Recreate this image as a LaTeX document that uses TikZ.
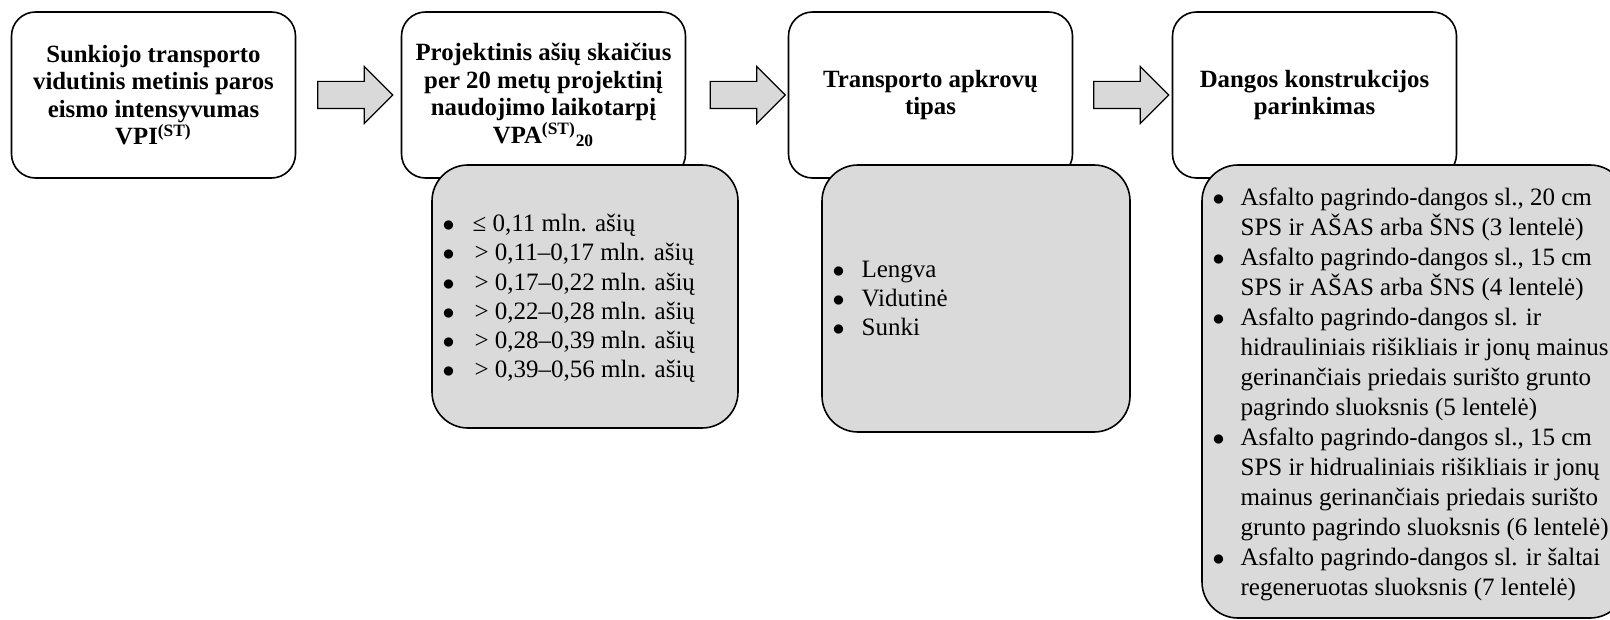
\documentclass[tikz,border=0pt]{standalone}
\usepackage{fontspec}
\setmainfont{Liberation Serif}
\usetikzlibrary{shapes.arrows,calc}
\definecolor{boxgray}{HTML}{DADADA}
\definecolor{arrowgray}{HTML}{D9D9D9}
\newcommand{\itm}[2][14pt]{\makebox[#1][l]{$\bullet$}#2}
\newcommand{\cont}[1][14pt]{\hspace*{#1}}

\begin{document}
\begin{tikzpicture}[x=0.5pt,y=-0.5pt,
  titlebox/.style={draw,line width=0.8pt,fill=white,rounded corners=12pt,
    minimum width=142pt,minimum height=83pt,align=center,
    font=\fontsize{12.4}{13.8}\selectfont\bfseries},
  listbox/.style={draw,line width=0.8pt,fill=boxgray,rounded corners=18pt},
  listtext/.style={anchor=west,align=left,inner sep=0pt,
    font=\fontsize{12.5}{15}\selectfont},
  flow/.style={draw,line width=0.6pt,fill=arrowgray,single arrow,
    single arrow head extend=7.5pt,minimum height=37.5pt,
    inner xsep=0pt,inner ysep=6.5pt}]
  \clip (0,0) rectangle (1610,620);

  % steps
  \node[titlebox] (vpi) at (153.5,95) {Sunkiojo transporto\\vidutinis metinis paros\\eismo intensyvumas\\VPI\textsuperscript{(ST)}};
  \node[titlebox] (vpa) at (543.5,95) {Projektinis ašių skaičius\\per 20 metų projektinį\\naudojimo laikotarpį\\VPA\textsuperscript{(ST)}\textsubscript{20}};
  \node[titlebox] (tipas) at (930.5,95) {Transporto apkrovų\\tipas};
  \node[titlebox] (danga) at (1314.5,95) {Dangos konstrukcijos\\parinkimas};

  % arrows between steps
  \node[flow] (a1) at ($(vpi.east)!0.5!(vpa.west)$) {};
  \node[flow] (a2) at ($(vpa.east)!0.5!(tipas.west)+(4,0)$) {};
  \node[flow] (a3) at ($(tipas.east)!0.5!(danga.west)+(2,0)$) {};

  % lists under the steps
  \node[listbox,minimum width=153pt,minimum height=131.5pt] (asys) at (585,296.5) {};
  \node[listbox,minimum width=154pt,minimum height=133.5pt] (apkr) at (976,298.5) {};
  \node[listbox,minimum width=212pt,minimum height=226.5pt] (konstr) at (1414,391.5) {};

  \node[listtext,font=\fontsize{12.5}{14.6}\selectfont] (asyslist) at ([xshift=5.5pt,yshift=-1pt]asys.west) {%
    \itm[15pt]{≤ 0,11 mln. ašių}\\
    \itm[15pt]{\hspace{1pt}> 0,11–0,17 mln. ašių}\\
    \itm[15pt]{\hspace{1pt}> 0,17–0,22 mln. ašių}\\
    \itm[15pt]{\hspace{1pt}> 0,22–0,28 mln. ašių}\\
    \itm[15pt]{\hspace{1pt}> 0,28–0,39 mln. ašių}\\
    \itm[15pt]{\hspace{1pt}> 0,39–0,56 mln. ašių}};
  \node[listtext,font=\fontsize{12.5}{14.6}\selectfont] (apkrlist) at ([xshift=5.5pt]apkr.west) {%
    \itm[14.5pt]{Lengva}\\
    \itm[14.5pt]{Vidutinė}\\
    \itm[14.5pt]{Sunki}};
  \node[listtext] (konstrlist) at ([xshift=5.5pt,yshift=-1.5pt]konstr.west) {%
    \itm{Asfalto pagrindo-dangos sl., 20 cm}\\
    \cont SPS ir AŠAS arba ŠNS (3 lentelė)\\
    \itm{Asfalto pagrindo-dangos sl., 15 cm}\\
    \cont SPS ir AŠAS arba ŠNS (4 lentelė)\\
    \itm{Asfalto pagrindo-dangos sl. ir}\\
    \cont hidrauliniais rišikliais ir jonų mainus\\
    \cont gerinančiais priedais surišto grunto\\
    \cont pagrindo sluoksnis (5 lentelė)\\
    \itm{Asfalto pagrindo-dangos sl., 15 cm}\\
    \cont SPS ir hidrualiniais rišikliais ir jonų\\
    \cont mainus gerinančiais priedais surišto\\
    \cont grunto pagrindo sluoksnis (6 lentelė)\\
    \itm{Asfalto pagrindo-dangos sl. ir šaltai}\\
    \cont regeneruotas sluoksnis (7 lentelė)};
\end{tikzpicture}
\end{document}
